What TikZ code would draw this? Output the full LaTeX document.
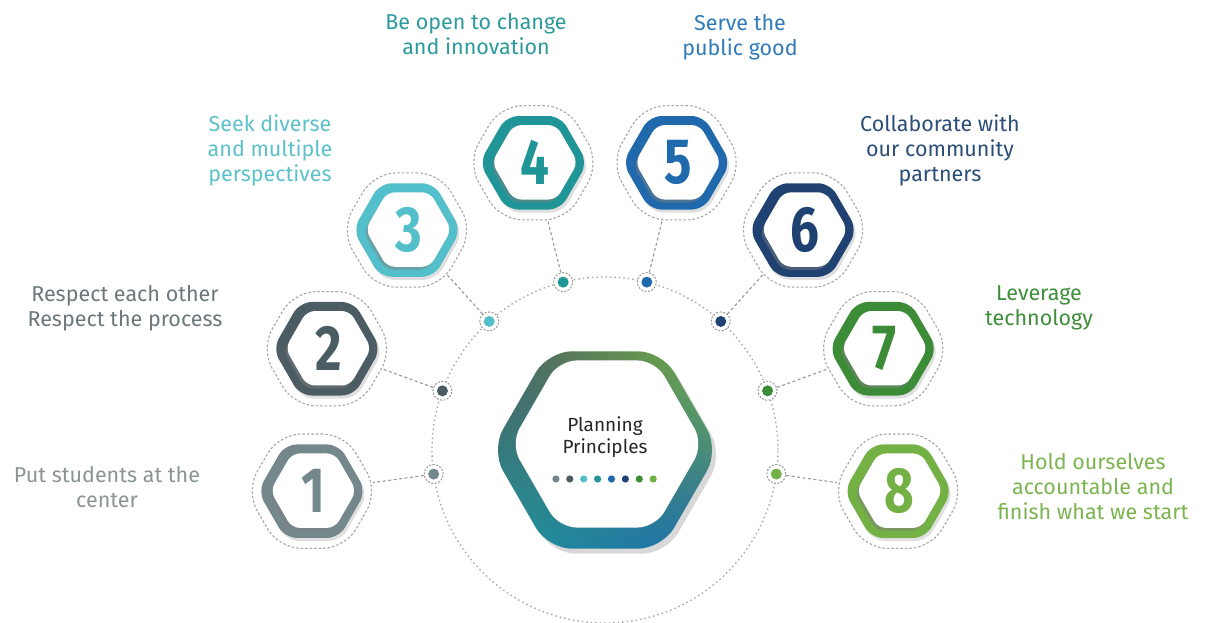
\documentclass[tikz,border=0pt]{standalone}
\usepackage{fontspec}
\setmainfont{Fira Sans}
\usepackage{graphicx}
\usetikzlibrary{shapes.geometric, shadows, shadings, calc}
\definecolor{pgrey}{HTML}{74878A}
\definecolor{pslate}{HTML}{4B5C63}
\definecolor{paqua}{HTML}{52BFCA}
\definecolor{pteal}{HTML}{1F9598}
\definecolor{pblue}{HTML}{2069AC}
\definecolor{pnavy}{HTML}{1F4272}
\definecolor{pgreen}{HTML}{3B8B37}
\definecolor{plime}{HTML}{74B145}
\definecolor{tgrey}{HTML}{8B9596}
\definecolor{tslate}{HTML}{6C787B}
\definecolor{taqua}{HTML}{5DC1CB}
\definecolor{tteal}{HTML}{2B9A9C}
\definecolor{tblue}{HTML}{2F7BB9}
\definecolor{tnavy}{HTML}{2B4E78}
\definecolor{tgreen}{HTML}{3E8E3A}
\definecolor{tlime}{HTML}{7CB450}

\tikzset{
  hexa/.style={regular polygon, regular polygon sides=6, inner sep=0pt, outer sep=0pt},
  halo/.style={hexa, minimum size=132pt, rounded corners=22pt, draw=black!35, line width=1.1pt, dash pattern=on 2.5pt off 2pt},
  ringhex/.style={hexa, minimum size=108pt, rounded corners=12pt, drop shadow={opacity=0.25, shadow xshift=2pt, shadow yshift=-3pt}},
  facehex/.style={hexa, minimum size=86pt, rounded corners=8pt, fill=white, drop shadow={opacity=0.45, shadow xshift=-2pt, shadow yshift=-3pt}, font=\fontsize{64}{64}\selectfont},
  hub/.style={circle, minimum size=19pt, inner sep=0pt, draw=black!40, fill=white, line width=1pt, dash pattern=on 2pt off 1.5pt},
  link/.style={draw=black!40, line width=1.1pt, dash pattern=on 3pt off 2.5pt},
  caption/.style={align=center, font=\fontsize{21.5}{25}\selectfont},
}

\begin{document}
\begin{tikzpicture}[x=1pt, y=1pt]
  \fill[white] (0,0) rectangle (1205,622);
  \useasboundingbox (0,0) rectangle (1205,622);

  \coordinate (C) at (605,172);
  \node[circle, minimum size=346pt, inner sep=0pt, outer sep=0pt, draw=black!35, line width=1.3pt, dash pattern=on 1.5pt off 3pt] (orbit) at (C) {};

  % the eight principles around the orbit
  \foreach \i/\a/\col in {1/188/pgrey, 2/160/pslate, 3/132/paqua, 4/104/pteal, 5/76/pblue, 6/48/pnavy, 7/20/pgreen, 8/-8/plime} {
    \node[halo] (halo\i) at ($(C)+(\a:296)$) {};
    \node[ringhex, fill=\col] (ring\i) at (halo\i) {};
    \node[facehex, text=\col] (face\i) at ($(ring\i)+(1.5,0.5)$) {\scalebox{0.8}[1]{\bfseries\i}};
    \node[hub] (hub\i) at (orbit.\a) {};
    \fill[\col] (hub\i) circle (5.5pt);
    \draw[link] (hub\i) -- (halo\i);
  }

  % centre
  \node[hexa, minimum size=228pt, rounded corners=24pt, upper left=pslate, upper right=plime, lower left=pteal, lower right=pblue, drop shadow={opacity=0.3, shadow xshift=4pt, shadow yshift=-5pt}] (core) at (C) {};
  \node[hexa, minimum size=193pt, rounded corners=18pt, fill=white] (coreface) at ($(C)+(2,6)$) {};
  \node[align=center, text=black!85, font=\fontsize{19}{22}\selectfont] (title) at (605,185) {Planning\\Principles};
  \foreach \col [count=\k] in {pgrey, pslate, paqua, pteal, pblue, pnavy, pgreen, plime}
    \fill[\col] ({542+13.9*\k},143) circle (3.6pt);

  % captions
  \node[caption, text=tgrey]  (label1) at (107,135) {Put students at the\\center};
  \node[caption, text=tslate] (label2) at (125,314) {Respect each other\\Respect the process};
  \node[caption, text=taqua]  (label3) at (270,472) {Seek diverse\\and multiple\\perspectives};
  \node[caption, text=tteal]  (label4) at (476,588) {Be open to change\\and innovation};
  \node[caption, text=tblue]  (label5) at (740,585) {Serve the\\public good};
  \node[caption, text=tnavy]  (label6) at (940,472) {Collaborate with\\our community\\partners};
  \node[caption, text=tgreen] (label7) at (1039,314) {Leverage\\technology};
  \node[caption, text=tlime]  (label8) at (1093,135) {Hold ourselves\\accountable and\\finish what we start};
\end{tikzpicture}
\end{document}
